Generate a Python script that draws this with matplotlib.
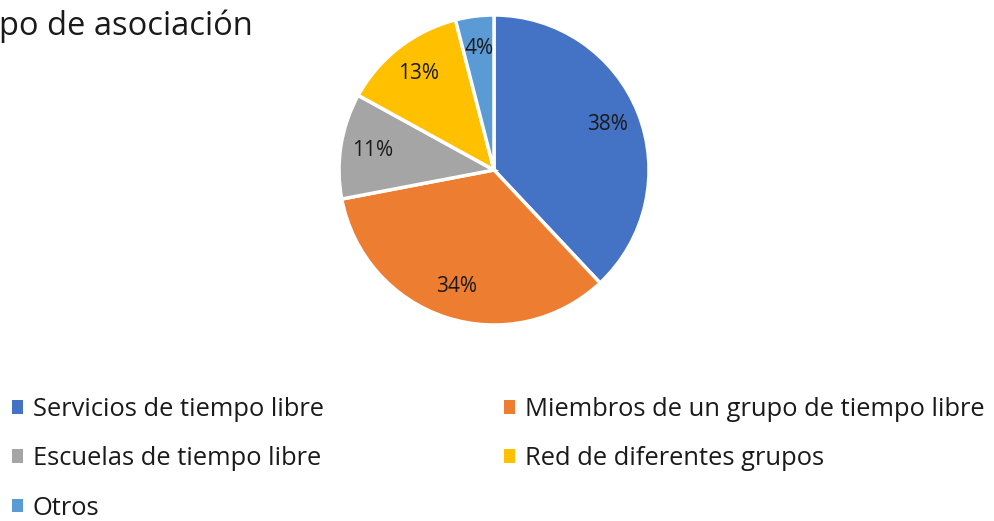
import matplotlib.pyplot as plt
from matplotlib.patches import Patch

plt.rcParams['font.family'] = ['Open Sans', 'DejaVu Sans']

# data
categories = ["Servicios de tiempo libre", "Miembros de un grupo de tiempo libre",
              "Escuelas de tiempo libre", "Red de diferentes grupos", "Otros"]
shares = [38, 34, 11, 13, 4]
colors = ["#4472C4", "#ED7D31", "#A5A5A5", "#FFC000", "#5B9BD5"]
title_text = "po de asociación"

W, H = 994, 521
fig = plt.figure(figsize=(W / 100, H / 100), dpi=100)

# pie centred at (494, 170) px, radius 155 px
cx, cy, r = 494, 170, 155
ax = fig.add_axes([(cx - r) / W, 1 - (cy + r) / H, 2 * r / W, 2 * r / H])
wedges, texts, autotexts = ax.pie(
    shares, colors=colors, startangle=90, counterclock=False,
    autopct="%.0f%%", pctdistance=0.79, radius=1,
    wedgeprops=dict(edgecolor="white", linewidth=2.5),
    textprops=dict(fontsize=15, color="#1a1a1a"))
ax.set_xlim(-1, 1)
ax.set_ylim(-1, 1)
ax.set_aspect("equal")
ax.axis("off")

fig.text(-1 / W, 1 - 26 / H, title_text, fontsize=23.5, color="#1a1a1a",
         ha="left", va="center")

# legend, row-wise order like the reference
order = [0, 2, 4, 1, 3]
handles = [Patch(facecolor=colors[i], label=categories[i]) for i in order]
fig.legend(handles=handles, ncol=2, loc="upper left",
           bbox_to_anchor=(12 / W, 1 - 397 / H), frameon=False,
           fontsize=18.4, handlelength=0.43, handleheight=0.43,
           handletextpad=0.38, labelspacing=0.95, columnspacing=7.07,
           borderaxespad=0, borderpad=0, labelcolor="#1a1a1a")

fig.savefig("out.png", dpi=100)
